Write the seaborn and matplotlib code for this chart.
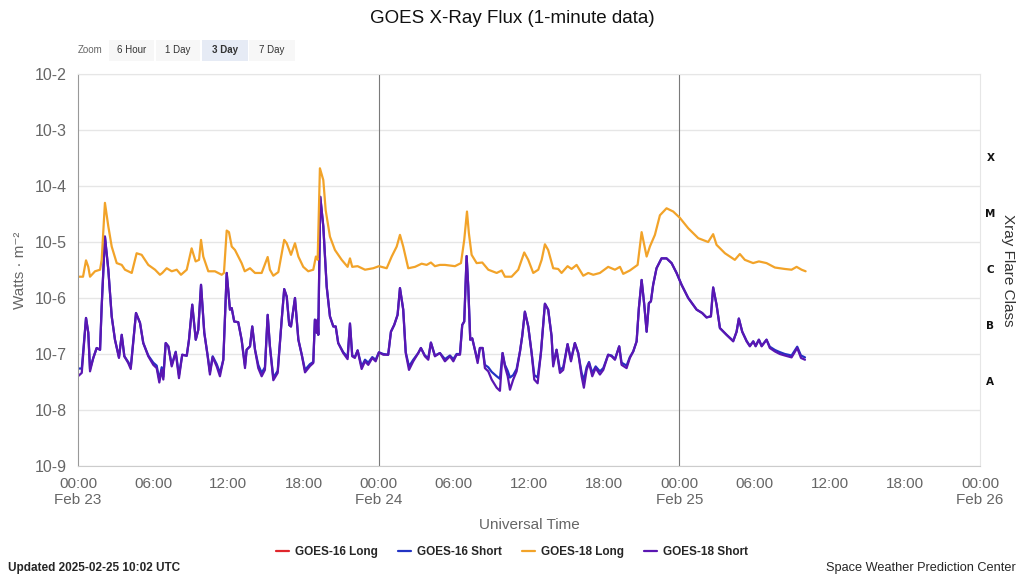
import numpy as np
import pandas as pd
import seaborn as sns
import matplotlib
matplotlib.use("Agg")
import matplotlib.pyplot as plt
import matplotlib.dates as mdates
from matplotlib.ticker import FixedLocator, FixedFormatter, LogLocator, NullFormatter, FuncFormatter
from matplotlib.lines import Line2D
from matplotlib.patches import Rectangle

# Hours since 2025-02-23 00:00 UTC
long_hours = [
    0.0, 0.4, 0.64, 0.82, 0.96, 1.36, 1.76, 1.89, 2.15, 2.42,
    2.69, 3.09, 3.49, 3.75, 4.29, 4.68, 5.08, 5.61, 6.15, 6.54,
    6.73, 7.08, 7.48, 7.88, 8.22, 8.68, 9.07, 9.39, 9.66, 9.82,
    10.0, 10.4, 10.93, 11.47, 11.65, 11.87, 12.05, 12.27, 12.53, 12.79,
    13.06, 13.31, 13.73, 14.13, 14.66, 15.14, 15.32, 15.59, 15.99, 16.46,
    16.66, 17.0, 17.32, 17.59, 17.98, 18.38, 18.78, 18.99, 19.13, 19.31,
    19.58, 19.77, 20.11, 20.51, 21.05, 21.52, 21.71, 21.89, 22.32, 22.91,
    23.57, 24.02, 24.64, 25.04, 25.44, 25.7, 25.96, 26.36, 26.9, 27.43,
    27.83, 28.17, 28.49, 28.89, 29.29, 30.09, 30.57, 30.83, 31.05, 31.2,
    31.42, 31.82, 32.27, 32.75, 33.42, 33.82, 34.08, 34.61, 35.14, 35.62,
    35.94, 36.34, 36.74, 37.01, 37.27, 37.53, 37.93, 38.33, 38.6, 39.08,
    39.4, 39.8, 40.33, 40.73, 41.13, 41.66, 42.32, 42.86, 43.26, 43.52,
    44.05, 44.67, 44.99, 45.39, 45.65, 46.05, 46.45, 46.98, 47.51, 48.04,
    48.71, 49.51, 50.3, 50.7, 50.97, 51.64, 52.43, 52.83, 53.23, 53.89,
    54.35, 54.96, 55.63, 56.42, 56.96, 57.36, 57.76, 58.08,
]
goes18_long = [
    2.4e-6, 2.4e-6, 4.7e-6, 3.6e-6, 2.4e-6, 3.0e-6, 3.2e-6, 4.8e-6, 5.0e-5, 1.9e-5,
    8.3e-6, 4.2e-6, 3.9e-6, 3.2e-6, 2.8e-6, 6.3e-6, 5.9e-6, 3.9e-6, 3.2e-6, 2.6e-6,
    2.8e-6, 3.4e-6, 3.0e-6, 3.2e-6, 2.6e-6, 3.2e-6, 7.7e-6, 4.5e-6, 4.8e-6, 1.09e-5,
    5.5e-6, 3.0e-6, 3.0e-6, 2.6e-6, 2.8e-6, 1.6e-5, 1.5e-5, 8.3e-6, 7.2e-6, 5.5e-6,
    4.2e-6, 3.0e-6, 3.4e-6, 2.8e-6, 2.8e-6, 5.4e-6, 3.2e-6, 2.5e-6, 2.9e-6, 1.09e-5,
    9.5e-6, 5.9e-6, 9.5e-6, 5.5e-6, 3.6e-6, 3.0e-6, 3.2e-6, 5.5e-6, 4.8e-6, 2.07e-4,
    1.28e-4, 3.7e-5, 1.25e-5, 7.2e-6, 4.8e-6, 3.6e-6, 5.1e-6, 3.6e-6, 3.7e-6, 3.2e-6,
    3.4e-6, 3.7e-6, 3.4e-6, 5.5e-6, 8.3e-6, 1.34e-5, 8.3e-6, 3.4e-6, 3.6e-6, 4.1e-6,
    3.9e-6, 4.3e-6, 3.7e-6, 3.9e-6, 3.9e-6, 3.7e-6, 4.2e-6, 1.09e-5, 3.5e-5, 1.44e-5,
    5.9e-6, 4.2e-6, 4.3e-6, 3.2e-6, 2.8e-6, 3.1e-6, 2.4e-6, 2.4e-6, 3.2e-6, 6.5e-6,
    4.8e-6, 2.8e-6, 3.2e-6, 4.8e-6, 9.1e-6, 7.2e-6, 3.4e-6, 3.3e-6, 2.8e-6, 3.7e-6,
    3.3e-6, 3.9e-6, 2.5e-6, 2.8e-6, 2.6e-6, 2.8e-6, 3.6e-6, 3.2e-6, 3.6e-6, 2.7e-6,
    3.1e-6, 3.9e-6, 1.5e-5, 5.5e-6, 8.3e-6, 1.34e-5, 3.0e-5, 4.0e-5, 3.5e-5, 2.7e-5,
    1.76e-5, 1.17e-5, 1.0e-5, 1.38e-5, 8.9e-6, 6.3e-6, 4.8e-6, 6.1e-6, 4.8e-6, 4.2e-6,
    4.5e-6, 4.2e-6, 3.5e-6, 3.3e-6, 3.2e-6, 3.6e-6, 3.2e-6, 3.0e-6,
]

short_hours = [
    0.0, 0.3, 0.64, 0.82, 0.96, 1.22, 1.49, 1.76, 1.89, 2.15,
    2.42, 2.69, 2.95, 3.27, 3.49, 3.7, 4.01, 4.21, 4.63, 4.95,
    5.21, 5.61, 6.01, 6.28, 6.49, 6.68, 6.81, 7.0, 7.21, 7.48,
    7.8, 8.06, 8.32, 8.68, 8.86, 9.12, 9.4, 9.6, 9.82, 10.08,
    10.35, 10.53, 10.75, 11.07, 11.33, 11.6, 11.87, 12.13, 12.27, 12.47,
    12.79, 13.06, 13.33, 13.46, 13.73, 13.91, 14.13, 14.39, 14.66, 14.92,
    15.14, 15.32, 15.59, 15.94, 16.26, 16.46, 16.66, 16.86, 17.0, 17.32,
    17.59, 17.86, 18.12, 18.52, 18.78, 18.91, 19.05, 19.13, 19.18, 19.34,
    19.58, 19.85, 20.11, 20.38, 20.57, 20.77, 21.17, 21.52, 21.71, 21.89,
    22.1, 22.32, 22.64, 22.91, 23.17, 23.49, 23.76, 24.02, 24.37, 24.76,
    24.98, 25.24, 25.51, 25.7, 25.96, 26.16, 26.42, 26.76, 27.16, 27.37,
    27.69, 27.96, 28.17, 28.49, 28.89, 29.29, 29.69, 29.96, 30.22, 30.49,
    30.67, 30.83, 31.02, 31.15, 31.31, 31.47, 31.68, 31.9, 32.08, 32.3,
    32.48, 32.75, 33.02, 33.42, 33.68, 33.89, 34.08, 34.3, 34.48, 34.74,
    35.01, 35.28, 35.46, 35.67, 35.94, 36.21, 36.42, 36.69, 36.95, 37.27,
    37.53, 37.8, 37.93, 38.2, 38.47, 38.73, 39.08, 39.35, 39.66, 39.93,
    40.2, 40.38, 40.6, 40.79, 41.05, 41.32, 41.66, 41.93, 42.32, 42.59,
    42.86, 43.2, 43.39, 43.79, 44.05, 44.32, 44.59, 44.77, 44.99, 45.2,
    45.39, 45.57, 45.73, 45.91, 46.18, 46.58, 46.98, 47.38, 47.78, 48.18,
    48.71, 49.38, 49.82, 50.17, 50.52, 50.7, 50.97, 51.24, 51.77, 52.3,
    52.57, 52.75, 53.02, 53.37, 53.63, 53.9, 54.09, 54.35, 54.57, 54.96,
    55.22, 55.63, 56.02, 56.42, 56.96, 57.41, 57.71, 58.03,
]
goes18_short = [
    4.0e-8, 4.6e-8, 4.4e-7, 2.4e-7, 4.9e-8, 8.5e-8, 1.28e-7, 1.19e-7, 7.1e-7, 1.25e-5,
    3.2e-6, 4.7e-7, 1.8e-7, 8.5e-8, 2.2e-7, 9.1e-8, 6.9e-8, 5.4e-8, 5.4e-7, 3.6e-7,
    1.57e-7, 9.1e-8, 6.4e-8, 5.6e-8, 3.1e-8, 5.2e-8, 3.5e-8, 1.57e-7, 1.37e-7, 6.0e-8,
    1.07e-7, 3.7e-8, 9.7e-8, 9.3e-8, 1.8e-7, 7.6e-7, 1.8e-7, 2.7e-7, 1.72e-6, 2.4e-7,
    9.1e-8, 4.3e-8, 8.8e-8, 6.0e-8, 4.0e-8, 7.9e-8, 2.8e-6, 6.2e-7, 6.6e-7, 3.8e-7,
    3.7e-7, 1.8e-7, 5.6e-8, 1.19e-7, 1.37e-7, 3.1e-7, 1.19e-7, 5.6e-8, 4.0e-8, 5.2e-8,
    5.0e-7, 1.37e-7, 3.4e-8, 4.6e-8, 4.1e-7, 1.44e-6, 1.06e-6, 3.3e-7, 3.1e-7, 1.0e-6,
    1.8e-7, 9.7e-8, 4.7e-8, 6.1e-8, 6.9e-8, 4.1e-7, 2.4e-7, 4.1e-7, 2.2e-7, 6.4e-5,
    1.9e-5, 1.6e-6, 4.7e-7, 3.1e-7, 3.1e-7, 1.57e-7, 1.04e-7, 8.1e-8, 3.5e-7, 9.1e-8,
    8.5e-8, 1.16e-7, 5.4e-8, 7.4e-8, 6.4e-8, 8.5e-8, 7.4e-8, 1.07e-7, 9.7e-8, 9.7e-8,
    2.5e-7, 3.3e-7, 5.0e-7, 1.5e-6, 6.2e-7, 1.04e-7, 5.2e-8, 7.4e-8, 1.04e-7, 1.28e-7,
    9.1e-8, 7.9e-8, 1.6e-7, 9.1e-8, 1.04e-7, 7.4e-8, 9.1e-8, 7.4e-8, 9.7e-8, 9.7e-8,
    3.3e-7, 3.8e-7, 5.6e-6, 1.6e-6, 1.8e-7, 1.9e-7, 1.19e-7, 6.9e-8, 1.28e-7, 1.28e-7,
    5.6e-8, 4.9e-8, 3.5e-8, 2.5e-8, 2.2e-8, 1.04e-7, 6.0e-8, 4.0e-8, 2.3e-8, 3.5e-8,
    4.9e-8, 1.11e-7, 2.1e-7, 5.7e-7, 3.1e-7, 1.04e-7, 3.5e-8, 3.0e-8, 1.04e-7, 7.9e-7,
    6.2e-7, 2.1e-7, 6.0e-8, 1.19e-7, 4.6e-8, 5.2e-8, 1.5e-7, 7.4e-8, 1.57e-7, 1.04e-7,
    4.0e-8, 2.5e-8, 5.2e-8, 6.9e-8, 4.0e-8, 5.6e-8, 4.3e-8, 5.2e-8, 9.7e-8, 9.1e-8,
    7.9e-8, 1.37e-7, 6.4e-8, 5.6e-8, 8.5e-8, 1.11e-7, 1.68e-7, 6.6e-7, 2.1e-6, 7.6e-7,
    2.5e-7, 8.1e-7, 8.7e-7, 1.72e-6, 3.4e-6, 5.1e-6, 5.1e-6, 4.2e-6, 2.8e-6, 1.72e-6,
    1.0e-6, 6.2e-7, 5.4e-7, 4.5e-7, 4.7e-7, 1.54e-6, 7.6e-7, 2.9e-7, 2.2e-7, 1.68e-7,
    2.5e-7, 4.3e-7, 2.5e-7, 1.68e-7, 1.37e-7, 1.68e-7, 1.37e-7, 1.8e-7, 1.37e-7, 1.8e-7,
    1.28e-7, 1.11e-7, 1.0e-7, 9.4e-8, 8.7e-8, 1.28e-7, 8.5e-8, 7.9e-8,
]
goes16_short = [
    5.5e-8, 5.5e-8, 4.4e-7, 2.4e-7, 5.4e-8, 8.5e-8, 1.28e-7, 1.19e-7, 7.1e-7, 1.25e-5,
    3.2e-6, 4.7e-7, 1.8e-7, 8.8e-8, 2.2e-7, 9.1e-8, 7.2e-8, 5.8e-8, 5.4e-7, 3.6e-7,
    1.57e-7, 9.4e-8, 7.0e-8, 6.2e-8, 3.5e-8, 5.8e-8, 3.9e-8, 1.57e-7, 1.37e-7, 6.4e-8,
    1.1e-7, 4.2e-8, 9.7e-8, 9.3e-8, 1.8e-7, 7.6e-7, 1.8e-7, 2.7e-7, 1.72e-6, 2.4e-7,
    9.4e-8, 4.8e-8, 9.1e-8, 6.6e-8, 4.6e-8, 7.9e-8, 2.8e-6, 6.2e-7, 6.6e-7, 3.8e-7,
    3.7e-7, 1.8e-7, 6.2e-8, 1.19e-7, 1.37e-7, 3.1e-7, 1.19e-7, 6.4e-8, 4.6e-8, 5.8e-8,
    5.0e-7, 1.37e-7, 3.8e-8, 5.0e-8, 4.1e-7, 1.44e-6, 1.06e-6, 3.3e-7, 3.1e-7, 1.0e-6,
    1.8e-7, 9.7e-8, 5.2e-8, 6.6e-8, 7.2e-8, 4.1e-7, 2.4e-7, 4.1e-7, 2.2e-7, 6.4e-5,
    1.9e-5, 1.6e-6, 4.7e-7, 3.1e-7, 3.1e-7, 1.57e-7, 1.08e-7, 8.8e-8, 3.5e-7, 9.4e-8,
    8.8e-8, 1.16e-7, 6.0e-8, 7.9e-8, 7.0e-8, 8.8e-8, 7.9e-8, 1.07e-7, 1.0e-7, 9.7e-8,
    2.5e-7, 3.3e-7, 5.0e-7, 1.5e-6, 6.2e-7, 1.08e-7, 6.0e-8, 7.9e-8, 1.04e-7, 1.28e-7,
    9.4e-8, 8.5e-8, 1.6e-7, 9.4e-8, 1.04e-7, 8.1e-8, 9.4e-8, 8.1e-8, 1.0e-7, 1.0e-7,
    3.3e-7, 3.8e-7, 5.6e-6, 1.6e-6, 1.8e-7, 1.9e-7, 1.19e-7, 7.6e-8, 1.28e-7, 1.28e-7,
    6.4e-8, 5.8e-8, 4.8e-8, 4.0e-8, 3.6e-8, 1.04e-7, 6.4e-8, 5.0e-8, 3.8e-8, 4.2e-8,
    5.4e-8, 1.11e-7, 2.1e-7, 5.7e-7, 3.1e-7, 1.04e-7, 4.2e-8, 3.8e-8, 1.04e-7, 7.9e-7,
    6.2e-7, 2.1e-7, 6.6e-8, 1.19e-7, 5.2e-8, 5.8e-8, 1.5e-7, 7.9e-8, 1.57e-7, 1.04e-7,
    4.6e-8, 3.4e-8, 5.8e-8, 7.2e-8, 4.6e-8, 6.0e-8, 4.9e-8, 5.6e-8, 9.7e-8, 9.4e-8,
    8.1e-8, 1.37e-7, 7.0e-8, 6.2e-8, 8.8e-8, 1.11e-7, 1.68e-7, 6.6e-7, 2.1e-6, 7.6e-7,
    2.5e-7, 8.1e-7, 8.7e-7, 1.72e-6, 3.4e-6, 5.1e-6, 5.1e-6, 4.2e-6, 2.8e-6, 1.72e-6,
    1.0e-6, 6.2e-7, 5.4e-7, 4.5e-7, 4.7e-7, 1.54e-6, 7.6e-7, 2.9e-7, 2.2e-7, 1.72e-7,
    2.5e-7, 4.3e-7, 2.5e-7, 1.72e-7, 1.4e-7, 1.68e-7, 1.4e-7, 1.8e-7, 1.4e-7, 1.8e-7,
    1.35e-7, 1.18e-7, 1.08e-7, 1.0e-7, 9.4e-8, 1.35e-7, 9.4e-8, 8.7e-8,
]

series_names = ["GOES-16 Long", "GOES-16 Short", "GOES-18 Long", "GOES-18 Short"]
series_colors = ["#e0262c", "#2233c4", "#f2a329", "#5a16b2"]
flare_classes = ["A", "B", "C", "M", "X"]
flare_levels = [10**-7.5, 10**-6.5, 10**-5.5, 10**-4.5, 10**-3.5]
ytick_vals = [1e-9, 1e-8, 1e-7, 1e-6, 1e-5, 1e-4, 1e-3, 1e-2]
ytick_text = ["10-9", "10-8", "10-7", "10-6", "10-5", "10-4", "10-3", "10-2"]
zoom_buttons = ["6 Hour", "1 Day", "3 Day", "7 Day"]

start = pd.Timestamp("2025-02-23 00:00")
df_long = pd.DataFrame({"time": start + pd.to_timedelta(long_hours, unit="h"),
                        "flux": goes18_long})
df_short = pd.DataFrame({"time": start + pd.to_timedelta(short_hours, unit="h"),
                         "g18": goes18_short, "g16": goes16_short})

sns.set_style("white")
plt.rcParams["font.family"] = ["Liberation Sans", "DejaVu Sans"]

fig = plt.figure(figsize=(10.24, 5.76), dpi=100)
ax = fig.add_axes([78 / 1024, 1 - 466 / 576, 902 / 1024, 392 / 576])

sns.lineplot(data=df_short, x="time", y="g16", ax=ax, color=series_colors[1],
             lw=1.6, estimator=None, sort=False)
sns.lineplot(data=df_short, x="time", y="g18", ax=ax, color=series_colors[3],
             lw=1.6, estimator=None, sort=False)
sns.lineplot(data=df_long, x="time", y="flux", ax=ax, color=series_colors[2],
             lw=1.6, estimator=None, sort=False)

ax.set_yscale("log")
ax.set_ylim(1e-9, 1e-2)
ax.set_xlim(start, start + pd.Timedelta(days=3))
ax.yaxis.set_major_locator(FixedLocator(ytick_vals))
ax.yaxis.set_major_formatter(FixedFormatter(ytick_text))
ax.yaxis.set_minor_locator(LogLocator(base=10, subs=np.arange(2, 10)))
ax.yaxis.set_minor_formatter(NullFormatter())

ax.xaxis.set_major_locator(mdates.HourLocator(byhour=[0, 6, 12, 18]))
ax.xaxis.set_minor_locator(mdates.HourLocator())


def fmt_time(v, pos=None):
    d = mdates.num2date(v)
    if d.hour == 0:
        return f"{d:%H:%M}\n{d:%b} {d.day}"
    return f"{d:%H:%M}"


ax.xaxis.set_major_formatter(FuncFormatter(fmt_time))
ax.tick_params(axis="both", which="both", direction="in", color="#888888")
ax.tick_params(axis="y", which="major", length=6, labelsize=11.5, labelcolor="#666666", pad=8)
ax.tick_params(axis="y", which="minor", length=4)
ax.tick_params(axis="x", which="major", length=6, labelsize=11, labelcolor="#666666", pad=8)
ax.tick_params(axis="x", which="minor", length=3)

ax.grid(True, axis="y", which="major", color="#e6e6e6", lw=1)
ax.grid(False, axis="x")
for side in ["top", "right"]:
    ax.spines[side].set_color("#e6e6e6")
ax.spines["left"].set_color("#999999")
ax.spines["bottom"].set_color("#cccccc")

for day in [1, 2]:
    ax.axvline(start + pd.Timedelta(days=day), color="#7a7a7a", lw=0.8, zorder=1)

ax.set_xlabel("Universal Time", color="#666666", fontsize=11, labelpad=8)
ax.set_ylabel("")
fig.text(0.02, 0.531, "Watts · m⁻²", rotation=90, ha="center", va="center",
         color="#666666", fontsize=11)

# flare class letters on the right
for cls, lvl in zip(flare_classes, flare_levels):
    ax.text(1.0115, lvl, cls, transform=ax.get_yaxis_transform(), ha="center",
            va="center", fontsize=7.5, fontweight="bold", family="DejaVu Sans", color="#111111")
fig.text(0.984, 0.531, "Xray Flare Class", rotation=270, ha="center", va="center",
         color="#333333", fontsize=11)

fig.text(0.5, 0.968, "GOES X-Ray Flux (1-minute data)", ha="center", va="center",
         fontsize=13.5, color="#111111")

# zoom buttons
fig.text(78 / 1024, 1 - 50 / 576, "Zoom", ha="left", va="center", fontsize=7, color="#666666")
btn_left = [109, 156, 202, 249]
btn_width = [45, 44, 46, 46]
for name, bx, bw in zip(zoom_buttons, btn_left, btn_width):
    sel = name == "3 Day"
    fig.patches.append(Rectangle((bx / 1024, 1 - 61 / 576), bw / 1024, 21 / 576,
                                 transform=fig.transFigure,
                                 facecolor="#e6ebf5" if sel else "#f7f7f7",
                                 edgecolor="none", zorder=0))
    fig.text((bx + bw / 2) / 1024, 1 - 50 / 576, name, ha="center", va="center",
             fontsize=7, color="#333333", fontweight="bold" if sel else "normal")

handles = [Line2D([], [], color=c, lw=1.6) for c in series_colors]
fig.legend(handles, series_names, loc="center", bbox_to_anchor=(0.5, 1 - 552 / 576),
           ncol=4, frameon=False, handlelength=1.1, handletextpad=0.5, columnspacing=1.7,
           prop={"weight": "bold", "size": 8.5})

fig.text(8 / 1024, 1 - 568 / 576, "Updated 2025-02-25 10:02 UTC", ha="left", va="center",
         fontsize=8.5, fontweight="bold", family=["Liberation Sans Narrow", "Liberation Sans"])
fig.text(1016 / 1024, 1 - 568 / 576, "Space Weather Prediction Center", ha="right",
         va="center", fontsize=9.2, family=["Liberation Sans Narrow", "Liberation Sans"])

fig.savefig("out.png", dpi=100)
